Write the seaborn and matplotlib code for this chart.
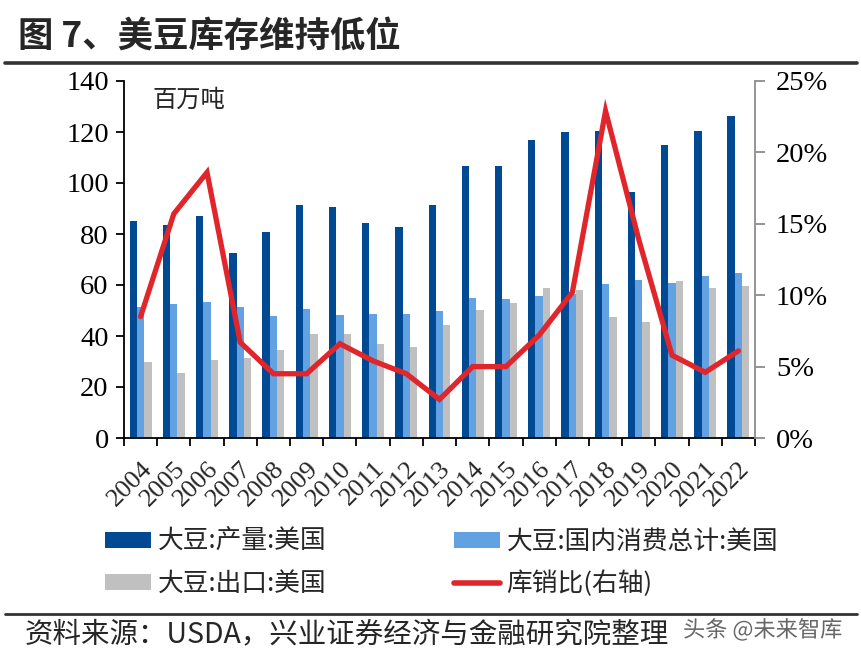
import numpy as np
import pandas as pd
import matplotlib
matplotlib.use("Agg")
import matplotlib.pyplot as plt
import seaborn as sns
from matplotlib.ticker import FixedLocator, FuncFormatter
from matplotlib.patches import Patch
from matplotlib.lines import Line2D
import matplotlib.patheffects as pe

# ---------------- data ----------------
years = [str(y) for y in range(2004, 2023)]
production = [85.0, 83.4, 87.0, 72.7, 80.7, 91.4, 90.7, 84.2, 82.7, 91.4,
              106.8, 106.8, 116.7, 120.0, 120.5, 96.6, 114.8, 120.5, 126.2]
consumption = [51.2, 52.4, 53.3, 51.5, 48.0, 50.5, 48.2, 48.5, 48.6, 49.9,
               54.8, 54.4, 55.6, 56.5, 60.3, 61.8, 60.9, 63.4, 64.6]
exports = [29.9, 25.6, 30.5, 31.5, 34.6, 40.7, 40.7, 37.0, 35.7, 44.4,
           50.2, 52.8, 58.8, 58.0, 47.6, 45.6, 61.6, 58.8, 59.7]
ratio_pct = [8.5, 15.7, 18.6, 6.7, 4.5, 4.5, 6.6, 5.4, 4.5, 2.7,
             5.0, 5.0, 7.2, 10.2, 22.9, 13.9, 5.8, 4.6, 6.1]

S_PROD = "大豆:产量:美国"
S_CONS = "大豆:国内消费总计:美国"
S_EXP = "大豆:出口:美国"
S_RATIO = "库销比(右轴)"
title = "图 7、美豆库存维持低位"
unit = "百万吨"
source = "资料来源：USDA，兴业证券经济与金融研究院整理"
watermark = "头条 @未来智库"

C_PROD = "#004A94"
C_CONS = "#62A1E2"
C_EXP = "#C0C0C0"
C_RATIO = "#E0262A"

# ---------------- style ----------------
sns.set_theme(style="white")
plt.rcParams["font.family"] = ["Liberation Serif", "Noto Sans CJK SC", "DejaVu Sans"]
CJK = ["Noto Sans CJK SC", "DejaVu Sans"]

df = pd.DataFrame({"year": years, S_PROD: production, S_CONS: consumption, S_EXP: exports})
df = df.melt(id_vars="year", var_name="series", value_name="value")

W, H = 861, 658
fig = plt.figure(figsize=(W / 100, H / 100), dpi=100)
L, R, T, B = 124, 755, 81, 438
ax = fig.add_axes([L / W, 1 - B / H, (R - L) / W, (B - T) / H])

sns.barplot(data=df, x="year", y="value", hue="series", order=years,
            hue_order=[S_PROD, S_CONS, S_EXP],
            palette=[C_PROD, C_CONS, C_EXP], saturation=1, width=0.66,
            gap=0, linewidth=0, legend=False, errorbar=None, ax=ax)

ax2 = ax.twinx()
sns.lineplot(x=np.arange(len(years)), y=ratio_pct, color=C_RATIO, lw=3.8,
             ax=ax2, solid_joinstyle="miter", solid_capstyle="round")

ax.set_xlim(-0.5, len(years) - 0.5)
ax.set_ylim(0, 140)
ax.set_yticks(range(0, 141, 20))
ax2.set_ylim(0, 25)
ax2.set_yticks(range(0, 26, 5))
ax2.yaxis.set_major_formatter(FuncFormatter(lambda v, p: f"{int(v)}%"))
ax.set_xlabel("")
ax.set_ylabel("")
ax2.set_xlabel("")
ax2.set_ylabel("")

for a in (ax, ax2):
    a.spines["top"].set_visible(False)
    a.patch.set_visible(False)
ax.spines["right"].set_visible(False)
ax2.spines["left"].set_visible(False)
ax2.spines["bottom"].set_visible(False)
ax.spines["left"].set_color("black")
ax.spines["bottom"].set_color("black")
ax.spines["left"].set_linewidth(1.3)
ax.spines["bottom"].set_linewidth(1.3)
ax2.spines["right"].set_color("#8c8c8c")
ax2.spines["right"].set_linewidth(1.3)

ax.tick_params(axis="y", left=True, direction="out", length=6, width=1.3,
               color="black", labelsize=20.5, pad=5, labelcolor="black")
ax2.tick_params(axis="y", right=True, direction="out", length=7, width=1.3,
                color="#8c8c8c", labelsize=20.5, pad=8, labelcolor="black")

ax.xaxis.set_minor_locator(FixedLocator(np.arange(-0.5, len(years), 1.0)))
ax.tick_params(axis="x", which="minor", bottom=True, direction="out",
               length=6, width=1.3, color="black")
ax.tick_params(axis="x", which="major", bottom=True, length=0, labelsize=19, pad=14)
for lbl in ax.get_xticklabels():
    lbl.set_rotation(45)
    lbl.set_ha("right")
    lbl.set_rotation_mode("anchor")

# unit label
fig.text(152 / W, 1 - 100 / H, unit, family=CJK, fontsize=17.5, va="center", ha="left")

# title and rules
fig.text(18 / W, 1 - 37 / H, title, family=CJK, fontsize=25.5, fontweight="bold",
         va="center", ha="left")
fig.add_artist(Line2D([5 / W, 857 / W], [1 - 63 / H] * 2, color="#333333", lw=2.6,
                      transform=fig.transFigure))
fig.add_artist(Line2D([5 / W, 857 / W], [1 - 614 / H] * 2, color="#333333", lw=2.0,
                      transform=fig.transFigure))
fig.text(25 / W, 1 - 635 / H, source, family=CJK, fontsize=20.5, va="center", ha="left")
fig.text(683 / W, 1 - 630 / H, watermark, family=CJK, fontsize=16, va="center",
         ha="left", color="#666666",
         path_effects=[pe.withStroke(linewidth=2, foreground="white")])

# legends
prop = {"family": CJK, "size": 18.5}
h1 = [Patch(facecolor=C_PROD, edgecolor="none"), Patch(facecolor=C_EXP, edgecolor="none")]
h2 = [Patch(facecolor=C_CONS, edgecolor="none"),
      Line2D([0], [0], color=C_RATIO, lw=4, solid_capstyle="round")]
common = dict(loc="upper left", frameon=False, prop=prop, handlelength=1.8,
              handleheight=0.55, handletextpad=0.25, labelspacing=0.62,
              borderpad=0, borderaxespad=0)
leg1 = fig.legend(h1, [S_PROD, S_EXP], bbox_to_anchor=(105 / W, 1 - 529 / H), **common)
leg2 = fig.legend(h2, [S_CONS, S_RATIO], bbox_to_anchor=(454 / W, 1 - 529 / H), **common)

fig.savefig("out.png", dpi=100)
